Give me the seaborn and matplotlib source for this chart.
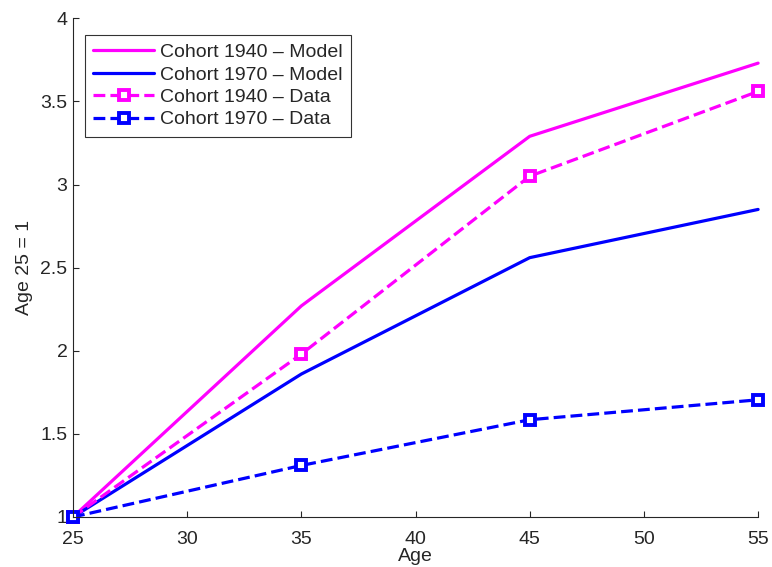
import numpy as np
import pandas as pd
import matplotlib
matplotlib.use("Agg")
import matplotlib.pyplot as plt
import seaborn as sns

# valores
ages = [25, 35, 45, 55]
model_1940 = [1.0, 2.27, 3.29, 3.73]
model_1970 = [1.0, 1.86, 2.56, 2.85]
data_1940 = [1.0, 1.98, 3.05, 3.56]
data_1970 = [1.0, 1.31, 1.585, 1.705]
labels = ["Cohort 1940 \u2013 Model", "Cohort 1970 \u2013 Model",
          "Cohort 1940 \u2013 Data", "Cohort 1970 \u2013 Data"]

sns.set_style("ticks")
plt.rcParams["font.family"] = ["Liberation Sans", "DejaVu Sans"]
plt.rcParams["xtick.direction"] = "in"
plt.rcParams["ytick.direction"] = "in"

fig = plt.figure(figsize=(7.72, 5.67), dpi=100)
ax = fig.add_axes([0.0946, 0.0882, 0.8874, 0.8796])

mag = "#ff00ff"
blu = "#0000ff"

sns.lineplot(x=ages, y=model_1940, color=mag, lw=2.3, ax=ax, label=labels[0])
sns.lineplot(x=ages, y=model_1970, color=blu, lw=2.3, ax=ax, label=labels[1])
sns.lineplot(x=ages, y=data_1940, color=mag, lw=2.3, ax=ax, label=labels[2],
             linestyle="--", dashes=(4, 3.2), marker="s", markersize=7.5,
             markerfacecolor="white", markeredgecolor=mag, markeredgewidth=2.8)
sns.lineplot(x=ages, y=data_1970, color=blu, lw=2.3, ax=ax, label=labels[3],
             linestyle="--", dashes=(4, 3.2), marker="s", markersize=7.5,
             markerfacecolor="white", markeredgecolor=blu, markeredgewidth=2.8)

ax.set_xlim(25, 55)
ax.set_ylim(1, 4)
ax.set_xticks([25, 30, 35, 40, 45, 50, 55])
ax.set_yticks([1, 1.5, 2, 2.5, 3, 3.5, 4])
ax.set_yticklabels(["1", "1.5", "2", "2.5", "3", "3.5", "4"])
ax.tick_params(labelsize=14, length=4.5, width=0.8)
ax.tick_params(axis="x", pad=10)
ax.tick_params(axis="y", pad=4)
ax.set_xlabel("Age", fontsize=14, labelpad=0)
ax.set_ylabel("Age 25 = 1", fontsize=14, labelpad=5)
for s in ["top", "right"]:
    ax.spines[s].set_visible(False)
for s in ["left", "bottom"]:
    ax.spines[s].set_linewidth(0.8)

for line in ax.lines:
    line.set_clip_on(False)

leg = ax.legend(loc="upper left", bbox_to_anchor=(0.017, 0.967), fontsize=14,
                frameon=True, fancybox=False, edgecolor="black",
                handlelength=3.1, borderpad=0.45, labelspacing=0.25,
                handletextpad=0.3, borderaxespad=0)
leg.get_frame().set_linewidth(0.8)

fig.savefig("out.png", dpi=100)
